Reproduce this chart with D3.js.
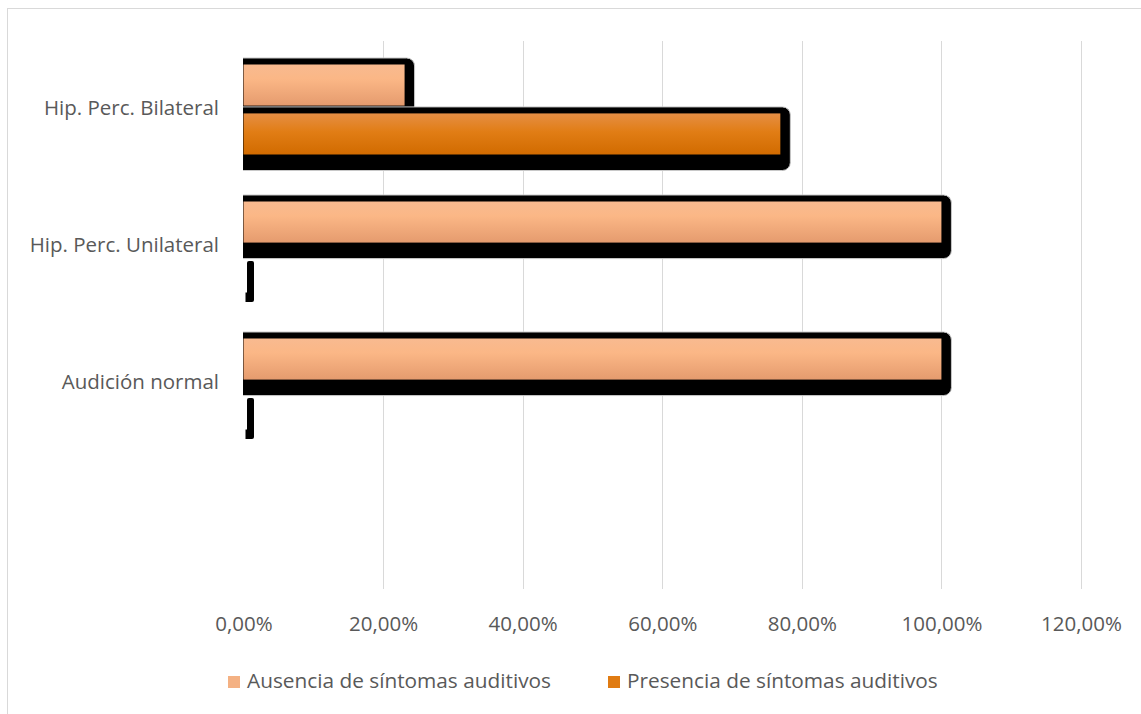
<!DOCTYPE html>
<html><head><meta charset="utf-8">
<script src="https://cdn.jsdelivr.net/npm/d3@7"></script>
<style>html,body{margin:0;padding:0;background:#fff;}svg{display:block;}</style>
</head><body>
<svg id="chart" width="1141" height="714"></svg>
<script>
const categories = ["Hip. Perc. Bilateral", "Hip. Perc. Unilateral", "Audición normal", ""];
const seriesNames = ["Ausencia de síntomas auditivos", "Presencia de síntomas auditivos"];
const ausencia = [0.2308, 1.0, 1.0];
const presencia = [0.7692, 0.0, 0.0];
const ticks = [0, 0.2, 0.4, 0.6, 0.8, 1.0, 1.2];

const svg = d3.select("#chart");
const W = 1141, H = 714;
const font = "'Open Sans', 'Noto Sans', sans-serif";
const textColor = "#595959";

svg.append("rect").attr("x", 7.5).attr("y", 8.5).attr("width", W).attr("height", H)
  .attr("fill", "#fff").attr("stroke", "#d9d9d9").attr("stroke-width", 1);

const x = d3.scaleLinear().domain([0, 1.2]).range([243.5, 1081]);
const y = d3.scaleBand().domain(categories).range([41, 589]);
const sub = d3.scaleBand().domain(seriesNames).range([-45, 45]).paddingInner(0.16);

const defs = svg.append("defs");
const g1 = defs.append("linearGradient").attr("id", "gA").attr("x1", 0).attr("y1", 0).attr("x2", 0).attr("y2", 1);
[[0, "#F8BA90"], [0.35, "#FBB786"], [1, "#E59B6E"]].forEach(s => g1.append("stop").attr("offset", s[0]).attr("stop-color", s[1]));
const g2 = defs.append("linearGradient").attr("id", "gP").attr("x1", 0).attr("y1", 0).attr("x2", 0).attr("y2", 1);
[[0, "#E58E44"], [0.45, "#E17D15"], [1, "#D16B00"]].forEach(s => g2.append("stop").attr("offset", s[0]).attr("stop-color", s[1]));
const fills = {[seriesNames[0]]: "url(#gA)", [seriesNames[1]]: "url(#gP)"};
const legendFills = {[seriesNames[0]]: "#F4B183", [seriesNames[1]]: "#E07B12"};

defs.append("clipPath").attr("id", "plotClip").append("rect")
  .attr("x", x(0) - 0.5).attr("y", 0).attr("width", 1000).attr("height", H);

// gridlines
svg.append("g").selectAll("line").data(ticks.filter(t => t > 0)).join("line")
  .attr("x1", d => Math.round(x(d)) + 0.5).attr("x2", d => Math.round(x(d)) + 0.5)
  .attr("y1", y.range()[0]).attr("y2", y.range()[1])
  .attr("stroke", "#d9d9d9").attr("stroke-width", 1);

// bars
const bars = svg.append("g").attr("clip-path", "url(#plotClip)");
const data = [];
categories.slice(0, ausencia.length).forEach((c, i) => {
  data.push({cat: c, s: seriesNames[0], v: ausencia[i]});
  data.push({cat: c, s: seriesNames[1], v: presencia[i]});
});
data.forEach(d => {
  const top = y(d.cat) + y.bandwidth() / 2 + sub(d.s);
  const h = sub.bandwidth();
  const x0 = x(0), x1 = x(d.v);
  const g = bars.append("g");
  if (d.v > 0) {
    g.append("rect").attr("x", x0 - 12).attr("y", top - 6.5).attr("width", x1 - x0 + 22).attr("height", h + 22.5)
      .attr("rx", 8).attr("fill", "#000").attr("stroke", "#c8c8c8").attr("stroke-width", 1);
  } else {
    g.append("rect").attr("x", x0 + 3.5).attr("y", top + 10.5).attr("width", 7).attr("height", h)
      .attr("rx", 2).attr("fill", "#000");
    g.append("rect").attr("x", x0 + 2).attr("y", top + h + 1).attr("width", 4).attr("height", 9.5)
      .attr("fill", "#000");
  }
  g.append("rect").attr("x", x0).attr("y", top).attr("width", x1 - x0).attr("height", h)
    .attr("fill", fills[d.s]);
});

// x axis labels
const xAxis = d3.axisBottom(x).tickValues(ticks).tickSize(0).tickPadding(0)
  .tickFormat(d => d3.format(".2f")(d * 100).replace(".", ",") + "%");
const ax = svg.append("g").attr("transform", `translate(0,${631})`).call(xAxis);
ax.select(".domain").remove();
ax.selectAll("text").attr("font-family", font).attr("font-size", 20.5).attr("fill", textColor)
  .attr("y", 0).attr("dy", 0);

// y axis labels
const yAxis = d3.axisLeft(y).tickSize(0).tickPadding(0);
const ay = svg.append("g").attr("transform", `translate(${219},0)`).call(yAxis);
ay.select(".domain").remove();
ay.selectAll("text").attr("font-family", font).attr("font-size", 20.5).attr("fill", textColor)
  .attr("dy", 0).attr("y", 5);

// legend
const legX = [228, 608];
const leg = svg.append("g");
seriesNames.forEach((s, i) => {
  leg.append("rect").attr("x", legX[i]).attr("y", 676).attr("width", 12).attr("height", 12).attr("fill", legendFills[s]);
  leg.append("text").attr("x", legX[i] + 19).attr("y", 688)
    .attr("font-family", font).attr("font-size", 20.8).attr("fill", textColor).text(s);
});
</script>
</body></html>
